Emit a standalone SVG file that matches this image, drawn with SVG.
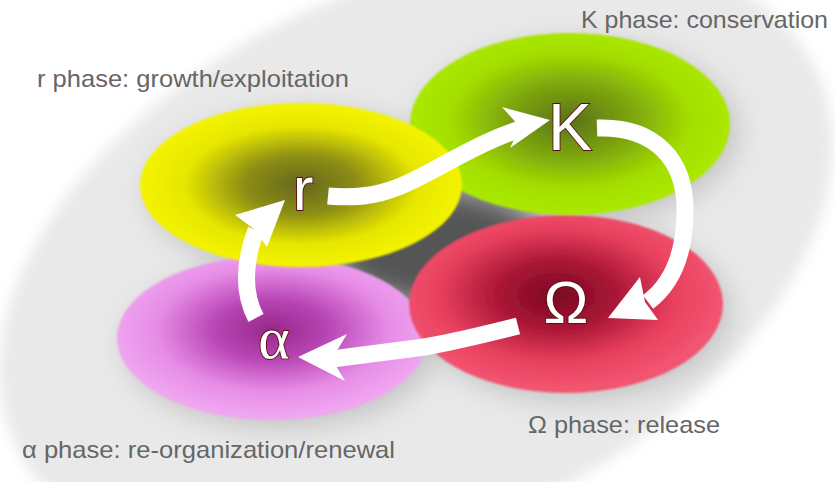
<svg xmlns="http://www.w3.org/2000/svg" width="835" height="482" viewBox="0 0 835 482">
<defs>
  <style>
    .lbl{font-family:"Liberation Sans",Arial,sans-serif;font-size:24px;fill:#666;}
    .big{font-family:"Liberation Sans",Arial,sans-serif;fill:#fff;stroke:#5a0f12;stroke-width:1.8;paint-order:stroke fill;text-anchor:middle;}
    .bigs{font-family:"Liberation Serif","Times New Roman",serif;}
    .shaft{fill:none;stroke:#fff;stroke-width:17;stroke-linecap:butt;}
    .head{fill:#fff;stroke:none;}
  </style>
  <filter id="soft" x="-20%" y="-20%" width="140%" height="140%"><feGaussianBlur stdDeviation="7"/></filter>
  <filter id="blur12" x="-50%" y="-50%" width="200%" height="200%"><feGaussianBlur stdDeviation="14"/></filter>
  <filter id="edge" x="-5%" y="-5%" width="110%" height="110%"><feGaussianBlur stdDeviation="1.2"/></filter>
  <radialGradient id="gY" cx="0.5" cy="0.5" r="0.5">
    <stop offset="0" stop-color="#66671f"/>
    <stop offset="0.35" stop-color="#8c8d14"/>
    <stop offset="0.72" stop-color="#e6e600"/>
    <stop offset="1" stop-color="#f4f400"/>
  </radialGradient>
  <radialGradient id="gG" cx="0.5" cy="0.48" r="0.5">
    <stop offset="0" stop-color="#5a7218"/>
    <stop offset="0.4" stop-color="#7da60e"/>
    <stop offset="0.75" stop-color="#a4de00"/>
    <stop offset="1" stop-color="#aae800"/>
  </radialGradient>
  <radialGradient id="gR" cx="0.47" cy="0.45" r="0.52">
    <stop offset="0" stop-color="#7a0a22"/>
    <stop offset="0.35" stop-color="#a81535"/>
    <stop offset="0.72" stop-color="#e8405e"/>
    <stop offset="1" stop-color="#f25470"/>
  </radialGradient>
  <radialGradient id="gP" cx="0.5" cy="0.45" r="0.52">
    <stop offset="0" stop-color="#97278a"/>
    <stop offset="0.35" stop-color="#b845b5"/>
    <stop offset="0.72" stop-color="#e68ce6"/>
    <stop offset="1" stop-color="#f0a6f0"/>
  </radialGradient>
</defs>
<rect width="835" height="482" fill="#fff"/>
<g id="background">
  <ellipse cx="416" cy="258" rx="442" ry="270" transform="rotate(-25 416 258)" fill="#e9e9e9" filter="url(#soft)"/>
  <g filter="url(#blur12)" fill="#c4c4c4">
    <ellipse cx="309" cy="193" rx="161" ry="82"/>
    <ellipse cx="578" cy="132" rx="160" ry="91"/>
    <ellipse cx="574" cy="312" rx="157" ry="89"/>
    <ellipse cx="280" cy="346" rx="155" ry="82"/>
  </g>
  <ellipse cx="440" cy="248" rx="105" ry="58" fill="#555" filter="url(#blur12)"/>
</g>
<g id="node-alpha">
  <ellipse cx="272" cy="338" rx="155" ry="82" fill="url(#gP)" filter="url(#edge)"/>
  <text class="big bigs" x="274" y="358" font-size="60">α</text>
</g>
<g id="node-omega">
  <ellipse cx="566" cy="304" rx="157" ry="89" fill="url(#gR)" filter="url(#edge)"/>
  <text class="big" x="566" y="323" font-size="60">Ω</text>
</g>
<g id="node-K">
  <ellipse cx="570" cy="124" rx="160" ry="91" fill="url(#gG)" filter="url(#edge)"/>
  <text class="big" x="570" y="150" font-size="66">K</text>
</g>
<g id="node-r">
  <ellipse cx="301" cy="185" rx="161" ry="82" fill="url(#gY)" filter="url(#edge)"/>
  <text class="big" x="303" y="210" font-size="62">r</text>
</g>
<g id="connectors">
  <path class="shaft" d="M328,196 C370,200 395,190 420,177 C460,156 490,138 524,128"/>
  <polygon class="head" points="550,120 502,107 520,127 510,148"/>
  <path class="shaft" d="M597,128 C655,126 687,160 685,215 C684,255 672,284 648,302"/>
  <polygon class="head" points="608,318 640,277 645,302 658,320"/>
  <path class="shaft" d="M518,326 C470,338 440,345 417,348 C385,352 355,356 332,359"/>
  <polygon class="head" points="298,357 347,334 332,359 345,381"/>
  <path class="shaft" d="M256,318 C244,295 243,265 256,230"/>
  <polygon class="head" points="285,200 235,215 254,229 267,247"/>
</g>
<g id="labels">
  <text class="lbl" x="581" y="28" textLength="247" lengthAdjust="spacingAndGlyphs">K phase: conservation</text>
  <text class="lbl" x="37" y="87" textLength="312" lengthAdjust="spacingAndGlyphs">r phase: growth/exploitation</text>
  <text class="lbl" x="528" y="433" textLength="192" lengthAdjust="spacingAndGlyphs">Ω phase: release</text>
  <text class="lbl" x="22" y="458" textLength="373" lengthAdjust="spacingAndGlyphs">α phase: re-organization/renewal</text>
</g>
</svg>
